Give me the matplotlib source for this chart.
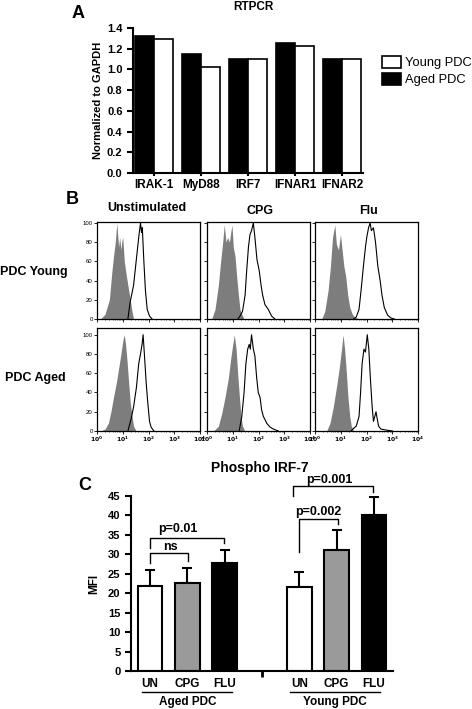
import numpy as np
import matplotlib
matplotlib.use("Agg")
import matplotlib.pyplot as plt
from matplotlib.transforms import blended_transform_factory

plt.rcParams['font.family'] = ['Liberation Sans', 'DejaVu Sans']
plt.rcParams['font.weight'] = 'bold'

# ---- Panel A: RTPCR ----
genes = ["IRAK-1", "MyD88", "IRF7", "IFNAR1", "IFNAR2"]
aged_rtpcr = [1.325, 1.15, 1.105, 1.26, 1.105]
young_rtpcr = [1.295, 1.025, 1.10, 1.225, 1.10]

# ---- Panel B: flow histograms (x in log10 units, y = % of max) ----
yu_ctrl_x = [0.14, 0.31, 0.48, 0.58, 0.64, 0.71, 0.77, 0.84, 0.88, 0.93, 0.97, 1.0, 1.06, 1.14, 1.23, 1.29, 1.36, 1.42]
yu_ctrl_y = [0, 5, 20, 50, 65, 80, 100, 75, 85, 72, 82, 85, 60, 45, 30, 20, 8, 0]
yu_stim_x = [1.20, 1.29, 1.42, 1.52, 1.62, 1.69, 1.73, 1.76, 1.82, 1.88, 1.95, 2.04, 2.14]
yu_stim_y = [0, 18, 35, 60, 85, 100, 90, 95, 60, 30, 10, 3, 0]

yc_ctrl_x = [0.18, 0.31, 0.44, 0.53, 0.61, 0.67, 0.74, 0.80, 0.87, 0.92, 0.97, 1.02, 1.09, 1.15, 1.22, 1.28, 1.35, 1.44]
yc_ctrl_y = [0, 10, 35, 60, 80, 98, 80, 85, 80, 90, 98, 75, 65, 45, 25, 10, 5, 0]
yc_stim_x = [1.20, 1.28, 1.38, 1.48, 1.54, 1.61, 1.67, 1.73, 1.80, 1.86, 1.94, 2.03, 2.10, 2.16, 2.25, 2.38, 2.51, 2.64]
yc_stim_y = [0, 3, 8, 25, 50, 75, 88, 92, 100, 85, 62, 50, 35, 25, 15, 10, 3, 0]

yf_ctrl_x = [0.26, 0.38, 0.51, 0.60, 0.68, 0.77, 0.83, 0.91, 0.99, 1.04, 1.12, 1.19, 1.27, 1.35, 1.45, 1.54, 1.73]
yf_ctrl_y = [0, 8, 30, 55, 85, 98, 78, 72, 88, 75, 55, 45, 25, 12, 5, 2, 0]
yf_stim_x = [1.50, 1.60, 1.71, 1.79, 1.88, 1.96, 2.01, 2.08, 2.14, 2.19, 2.27, 2.35, 2.44, 2.53, 2.60, 2.69, 2.82, 2.95, 3.08]
yf_stim_y = [0, 2, 10, 30, 55, 75, 85, 95, 100, 92, 95, 80, 55, 40, 25, 12, 4, 1, 0]

au_ctrl_x = [0.14, 0.31, 0.44, 0.54, 0.64, 0.75, 0.84, 0.93, 1.01, 1.06, 1.11, 1.16, 1.23, 1.29, 1.36, 1.42, 1.52]
au_ctrl_y = [0, 2, 8, 20, 35, 50, 65, 80, 95, 100, 90, 75, 50, 30, 15, 5, 0]
au_stim_x = [1.20, 1.32, 1.42, 1.53, 1.62, 1.69, 1.75, 1.79, 1.84, 1.91, 1.97, 2.04, 2.10, 2.21]
au_stim_y = [0, 12, 25, 45, 70, 80, 90, 100, 80, 50, 30, 10, 4, 0]

ac_ctrl_x = [0.25, 0.44, 0.57, 0.70, 0.83, 0.92, 1.0, 1.06, 1.13, 1.19, 1.26, 1.32, 1.38, 1.47]
ac_ctrl_y = [0, 5, 18, 35, 55, 75, 90, 100, 85, 60, 35, 15, 5, 0]
ac_stim_x = [1.25, 1.35, 1.44, 1.51, 1.58, 1.64, 1.68, 1.73, 1.80, 1.86, 1.93, 1.99, 2.06, 2.12, 2.19, 2.25, 2.32, 2.45, 2.58, 2.77]
ac_stim_y = [0, 15, 40, 70, 85, 90, 85, 100, 85, 78, 55, 40, 35, 22, 15, 12, 8, 4, 2, 0]

af_ctrl_x = [0.45, 0.58, 0.71, 0.83, 0.94, 1.03, 1.09, 1.15, 1.22, 1.28, 1.35, 1.41, 1.50]
af_ctrl_y = [0, 8, 25, 45, 65, 85, 100, 85, 60, 35, 15, 5, 0]
af_stim_x = [1.40, 1.47, 1.60, 1.71, 1.77, 1.83, 1.90, 1.96, 2.03, 2.09, 2.15, 2.22, 2.27, 2.32, 2.37, 2.40, 2.47, 2.56, 2.76, 3.01]
af_stim_y = [0, 2, 5, 15, 40, 70, 85, 82, 100, 85, 55, 25, 10, 15, 20, 15, 5, 2, 1, 0]

hist_cols = ["Unstimulated", "CPG", "Flu"]
hist_rows = ["PDC Young", "PDC Aged"]
hist_data = [
    [(yu_ctrl_x, yu_ctrl_y, yu_stim_x, yu_stim_y),
     (yc_ctrl_x, yc_ctrl_y, yc_stim_x, yc_stim_y),
     (yf_ctrl_x, yf_ctrl_y, yf_stim_x, yf_stim_y)],
    [(au_ctrl_x, au_ctrl_y, au_stim_x, au_stim_y),
     (ac_ctrl_x, ac_ctrl_y, ac_stim_x, ac_stim_y),
     (af_ctrl_x, af_ctrl_y, af_stim_x, af_stim_y)],
]

# ---- Panel C: Phospho IRF-7 ----
treatments = ["UN", "CPG", "FLU"]
aged_mfi = [21.8, 22.7, 27.8]
aged_err = [4.1, 3.9, 3.4]
young_mfi = [21.6, 31.1, 40.0]
young_err = [3.8, 5.2, 4.8]
bar_colors = ["white", "#9a9a9a", "black"]

W, H = 472, 709
fig = plt.figure(figsize=(W / 100, H / 100), dpi=100)


def fx(px):
    return px / W


def fy(py):
    return 1 - py / H


def graphpad_axes(ax):
    for s in ["top", "right"]:
        ax.spines[s].set_visible(False)
    for s in ["left", "bottom"]:
        ax.spines[s].set_linewidth(1.5)
    ax.tick_params(width=1.5, length=4, labelsize=8)


# ===== A =====
axA = fig.add_axes([fx(133), fy(173), fx(363 - 133), (173 - 28) / H])
graphpad_axes(axA)
xg = np.arange(len(genes))
bw = 0.4
axA.bar(xg - bw / 2, aged_rtpcr, bw, color="black", edgecolor="black", linewidth=1.2, label="Aged PDC")
axA.bar(xg + bw / 2, young_rtpcr, bw, color="white", edgecolor="black", linewidth=1.2, label="Young PDC")
axA.set_xlim(-0.45, 4.45)
axA.set_ylim(0, 1.4)
axA.set_yticks(np.arange(0, 1.41, 0.2))
axA.set_yticklabels([f"{v:.1f}" for v in np.arange(0, 1.41, 0.2)], fontweight="bold")
axA.set_xticks(xg)
axA.set_xticklabels(genes, fontweight="bold", fontsize=8.5)
axA.tick_params(axis="x", length=2, pad=2)
axA.set_ylabel("Normalized to GAPDH", fontsize=8, fontweight="bold", labelpad=3)
h, l = axA.get_legend_handles_labels()
fig.legend(h[::-1], l[::-1], loc="upper left", bbox_to_anchor=(fx(373), fy(47)),
           frameon=False, handlelength=1.45, handleheight=1.0, borderpad=0.2,
           handletextpad=0.3, labelspacing=0.3, prop={"weight": "normal", "size": 9.3})
fig.text(fx(253), fy(7), "RTPCR", ha="center", va="center", fontsize=8.5, fontweight="bold")
fig.text(fx(78), fy(13), "A", ha="center", va="center", fontsize=13, fontweight="bold")

# ===== B =====
col_left = [97, 207, 315]
row_top = [222, 328]
row_bot = [319, 431]
row_ymax = [101, 107]
for r in range(2):
    for c in range(3):
        ax = fig.add_axes([fx(col_left[c]), fy(row_bot[r]), fx(103), (row_bot[r] - row_top[r]) / H])
        cx, cy, sx, sy = hist_data[r][c]
        ax.fill_between(10 ** np.array(cx), cy, 0, color="#7d7d7d", linewidth=0)
        ax.plot(10 ** np.array(sx), sy, color="black", linewidth=0.8)
        ax.set_xscale("log")
        ax.set_xlim(1, 1e4)
        ax.set_ylim(0, row_ymax[r])
        for s in ax.spines.values():
            s.set_linewidth(0.9)
        ax.set_yticks([0, 20, 40, 60, 80, 100])
        ax.set_xticks([1, 10, 100, 1000, 10000])
        ax.tick_params(labelsize=4.3, length=2, width=0.6, pad=1)
        ax.tick_params(which="minor", length=1, width=0.4)
        if c == 0:
            ax.set_yticklabels(["0", "20", "40", "60", "80", "100"], fontweight="normal")
        else:
            ax.set_yticklabels([])
        if r == 1:
            ax.set_xticklabels([r"$10^0$", r"$10^1$", r"$10^2$", r"$10^3$", r"$10^4$"])
        else:
            ax.set_xticklabels([])

title_pos = [(147, 208), (260, 211), (369, 211)]
for name, (px, py) in zip(hist_cols, title_pos):
    fig.text(fx(px), fy(py), name, ha="center", va="center", fontsize=9, fontweight="bold")
fig.text(fx(0), fy(272), hist_rows[0], ha="left", va="center", fontsize=9, fontweight="bold")
fig.text(fx(5), fy(378), hist_rows[1], ha="left", va="center", fontsize=9, fontweight="bold")
fig.text(fx(72), fy(200), "B", ha="center", va="center", fontsize=13, fontweight="bold")

# ===== C =====
axC = fig.add_axes([fx(131), fy(671), fx(393 - 131), 175 / H])
graphpad_axes(axC)
pos_aged = np.arange(3)
pos_young = np.arange(3) + 4
cw = 0.66
for pos, vals, errs in [(pos_aged, aged_mfi, aged_err), (pos_young, young_mfi, young_err)]:
    axC.bar(pos, vals, cw, color=bar_colors, edgecolor="black", linewidth=1.5, zorder=2)
    axC.errorbar(pos, vals, yerr=[np.zeros(3), errs], fmt="none", ecolor="black",
                 elinewidth=1.5, capsize=3.5, capthick=1.5, zorder=1)
axC.set_xlim(-0.51, 6.51)
axC.set_ylim(0, 45)
axC.set_yticks(np.arange(0, 46, 5))
axC.set_yticklabels([str(v) for v in range(0, 46, 5)], fontweight="bold")
axC.set_xticks(list(pos_aged) + list(pos_young))
axC.set_xticklabels(treatments * 2, fontweight="bold", fontsize=8.5)
axC.tick_params(axis="x", length=0, pad=5)
axC.set_xticks([3], minor=True)
axC.tick_params(axis="x", which="minor", length=4, width=2)
axC.set_ylabel("MFI", fontsize=8.5, fontweight="bold", labelpad=6)

tr = blended_transform_factory(axC.transData, axC.transAxes)
for (x0, x1, xt, name) in [(-0.21, 2.2, 1.0, "Aged PDC"), (3.75, 6.17, 4.95, "Young PDC")]:
    axC.plot([x0, x1], [-0.12, -0.12], color="black", linewidth=1, transform=tr, clip_on=False)
    axC.text(xt, -0.18, name, transform=tr, ha="center", va="center", fontsize=8.5, fontweight="bold")

# significance brackets: (x_left, x_right, y_top, y_left_end, y_right_end, text, text_x, text_y)
brackets = [
    (0.0, 1.02, 30.4, 27.8, 28.3, "ns", 0.54, 32.0),
    (0.0, 1.98, 34.2, 31.6, 32.8, "p=0.01", 0.75, 36.5),
    (4.0, 5.04, 39.1, 30.6, 37.8, "p=0.002", 4.5, 41.0),
    (3.83, 5.98, 47.6, 45.0, 46.0, "p=0.001", 4.8, 49.2),
]
for x0, x1, yt, yl, yr, txt, tx, ty in brackets:
    axC.plot([x0, x0, x1, x1], [yl, yt, yt, yr], color="black", linewidth=1, clip_on=False)
    axC.text(tx, ty, txt, ha="center", va="center", fontsize=9, fontweight="bold", clip_on=False)

fig.text(fx(260), fy(468), "Phospho IRF-7", ha="center", va="center", fontsize=10, fontweight="bold")
fig.text(fx(85), fy(485), "C", ha="center", va="center", fontsize=13, fontweight="bold")

fig.savefig("out.png", dpi=100)
